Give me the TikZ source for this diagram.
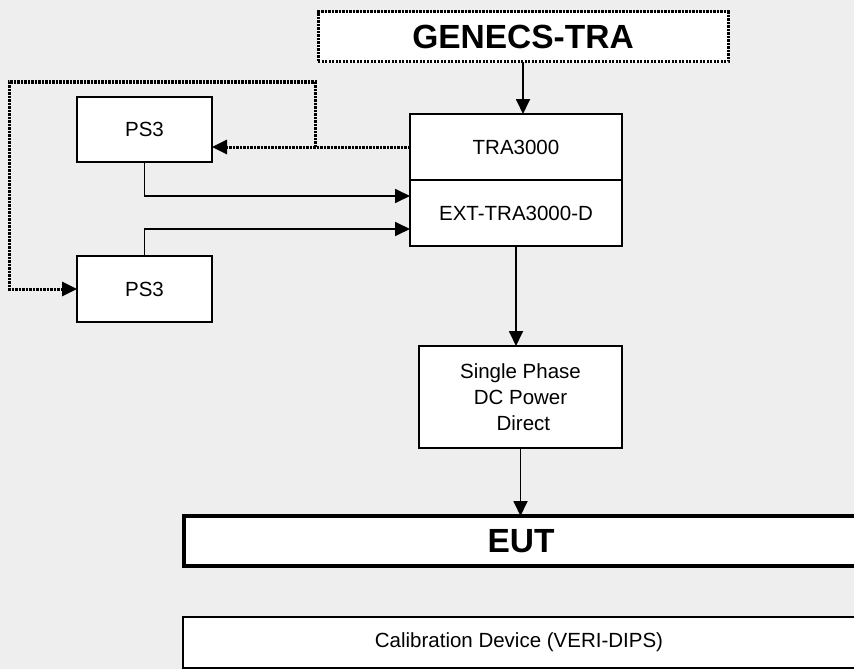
\documentclass[tikz,border=0pt]{standalone}
\usepackage{fontspec}
\setmainfont{Liberation Sans}
\usetikzlibrary{arrows.meta,calc,positioning}

\begin{document}
\begin{tikzpicture}[x=1pt,y=1pt,>={Triangle[length=15pt,width=14pt]},
		box/.style={draw,fill=white,line width=1.8pt,inner sep=0pt,outer sep=0pt,font=\fontsize{20.5}{26}\selectfont,align=center},
		bigbox/.style={box,line width=3.2pt,font=\fontsize{33.5}{38}\selectfont\bfseries},
		dotline/.style={line width=3pt,dash pattern=on 2.4pt off 1.1pt},
		link/.style={line width=1.8pt}]
		\useasboundingbox[fill={rgb,255:red,238;green,238;blue,238}] (0,0) rectangle (854,-669);
		\node[bigbox,dotline,minimum width=410pt,minimum height=50pt] (gen) at (523,-37) {GENECS-TRA};
		\node[box,minimum width=212pt,minimum height=66pt] (tra) at (516,-147) {TRA3000};
		\node[box,minimum width=212pt,minimum height=66pt] [below=0pt of tra] (ext) {EXT-TRA3000-D};
		\node[box,minimum width=135pt,minimum height=65pt] (ps3a) at (144.5,-129.5) {PS3};
		\node[box,minimum width=135pt,minimum height=66pt] (ps3b) at (144.5,-289) {PS3};
		\node[box,minimum width=203pt,minimum height=102pt] [below=100pt of ext,xshift=4.5pt] (sp) {Single Phase\\DC Power\\\ Direct};
		\node[bigbox,minimum width=674pt,minimum height=50pt] (eut) at (521,-541) {EUT};
		\node[box,line width=2pt,minimum width=672pt,minimum height=51pt] (cal) at (519,-642.5) {Calibration Device (VERI-DIPS)};
		\coordinate (tap) at (315,-147);
		\coordinate (ret) at (9,-82);
		\draw[link,->] (gen.south) -- (gen.south |- tra.north);
		\draw[dotline,->] (tra.west) -- (ps3a.east |- tra.west);
		\draw[dotline,->] (tap) |- (ret) |- (ps3b.west);
		\draw[link,->] (ps3a.south) |- ([yshift=17pt]ext.west);
		\draw[link,->] (ps3b.north) |- ([yshift=-16pt]ext.west);
		\draw[link,->] (ext.south) -- (ext.south |- sp.north);
		\draw[link,->] (sp.south) -- (sp.south |- eut.north);
	\end{tikzpicture}
\end{document}
